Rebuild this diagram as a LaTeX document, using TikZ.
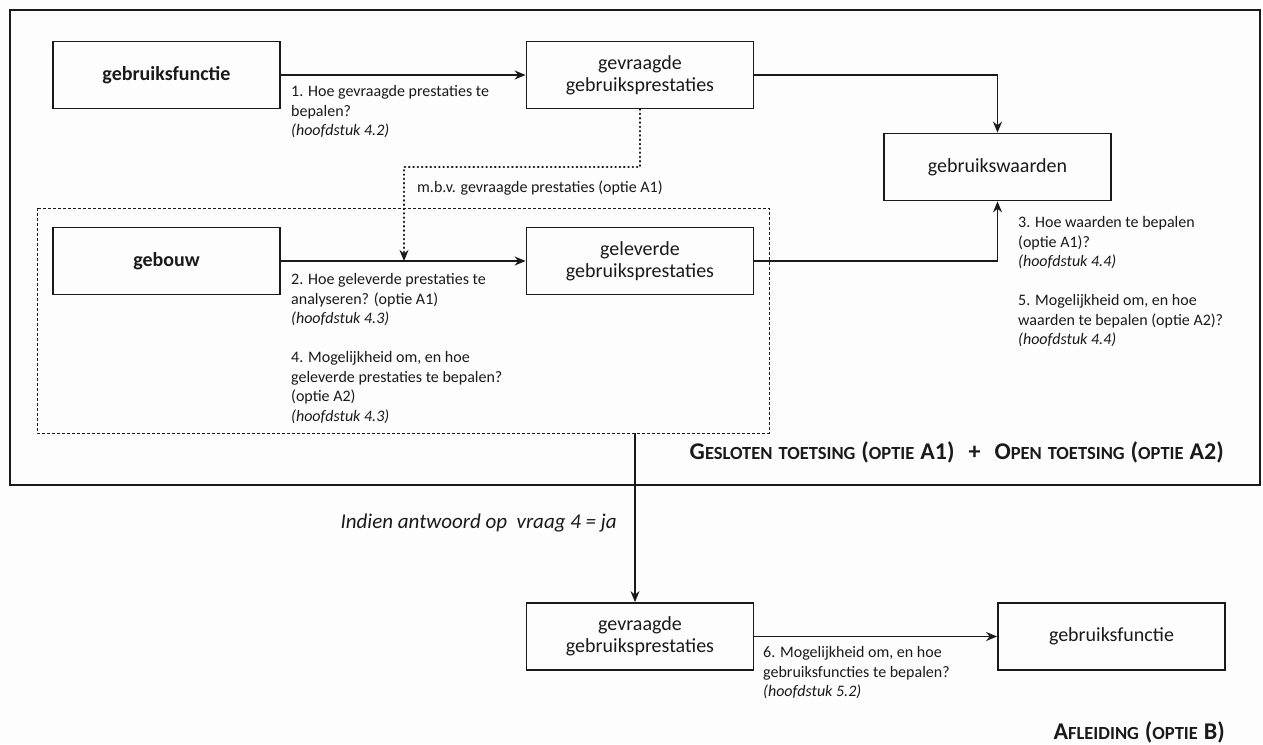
\documentclass[tikz,border=0pt]{standalone}
\usepackage{fontspec}
\setmainfont{Carlito}
\usetikzlibrary{arrows.meta}

\definecolor{ink}{HTML}{1A1A1A}
\definecolor{paper}{HTML}{FDFDFD}

% type sizes (1pt = 1 drawing unit)
\newcommand{\boxfont}{\fontsize{20}{22}\selectfont}
\newcommand{\boxboldfont}{\fontsize{20}{22}\selectfont\bfseries}
\newcommand{\lblfont}{\fontsize{16}{19.5}\selectfont}
% hand-made small capitals for the option titles
\newcommand{\Bg}[1]{{\fontsize{24}{26}\selectfont #1}}
\newcommand{\Sm}[1]{{\fontsize{18.5}{26}\selectfont #1}}
\newcommand{\Wsp}{\hspace{6pt}}

\tikzset{
  box/.style={draw=ink, line width=1.8pt, minimum width=227pt, minimum height=67pt,
              inner sep=0pt, align=center, font=\boxfont, text=ink},
  boldbox/.style={box, font=\boxboldfont},
  link/.style={draw=ink, line width=1.4pt, -{Stealth[length=11pt,width=9pt]}},
  dots/.style={draw=ink, line width=2.2pt, dash pattern=on 0.5pt off 3.8pt, line cap=round,
               -{Stealth[length=11pt,width=9pt,line cap=butt]}},
  frame/.style={draw=ink, line width=1.8pt},
  zone/.style={draw=ink, line width=1pt, dash pattern=on 3pt off 2pt},
  lbl/.style={anchor=north west, align=left, inner sep=0pt, font=\lblfont, text=ink},
  title/.style={anchor=east, inner sep=0pt, text=ink, font=\bfseries}
}

\begin{document}
\begin{tikzpicture}[x=1pt, y=-1pt]
  \useasboundingbox (0,0) rectangle (1263,744);
  \fill[paper] (0,0) rectangle (1263,744);

  % outer frame (options A1 + A2) and the dashed building zone
  \draw[frame] (10,10) rectangle (1260,485);
  \draw[zone] (37,208) rectangle (769,433);
  \coordinate (zoneout) at (635,433);

  % boxes
  \node[boldbox] (use1) at (166.5,75) {gebruiksfunctie};
  \node[box] (req1) at (640,75) {gevraagde\\gebruiksprestaties};
  \node[box] (val) at (997.5,167) {gebruikswaarden};
  \node[boldbox] (bldg) at (166.5,261) {gebouw};
  \node[box] (del) at (640,261) {geleverde\\gebruiksprestaties};
  \node[box] (req2) at (640,636.5) {gevraagde\\gebruiksprestaties};
  \node[box] (use2) at (1111.5,636.5) {gebruiksfunctie};

  % connectors
  \draw[link] (use1.east) -- (req1.west);
  \draw[link] (req1.east) -| (val.north);
  \draw[link] (bldg.east) -- (del.west);
  \draw[link] (del.east) -| (val.south);
  \coordinate (mbvturn) at (404,167);
  \draw[dots] (req1.south) |- (mbvturn) -- (mbvturn |- bldg.east);
  \draw[link] (zoneout) -- (zoneout |- req2.north);
  \draw[link] (req2.east) -- (use2.west);

  % questions
  \node[lbl] (q1) at (291,85.5)
    {1. Hoe gevraagde prestaties te\\bepalen?\\\textit{(hoofdstuk 4.2)}};
  \node[lbl] (q2) at (291,273.5)
    {2. Hoe geleverde prestaties te\\analyseren? (optie A1)\\\textit{(hoofdstuk 4.3)}\\[19.5pt]
     4. Mogelijkheid om, en hoe\\geleverde prestaties te bepalen?\\(optie A2)\\\textit{(hoofdstuk 4.3)}};
  \node[lbl] (q3) at (1018,216.5)
    {3. Hoe waarden te bepalen\\(optie A1)?\\\textit{(hoofdstuk 4.4)}\\[19.5pt]
     5. Mogelijkheid om, en hoe\\waarden te bepalen (optie A2)?\\\textit{(hoofdstuk 4.4)}};
  \node[lbl] (q6) at (763,646.5)
    {6. Mogelijkheid om, en hoe\\gebruiksfuncties te bepalen?\\\textit{(hoofdstuk 5.2)}};
  \node[lbl, anchor=west] (mbv) at (417,188) {m.b.v. gevraagde prestaties (optie A1)};
  \node[anchor=east, inner sep=0pt, text=ink, font=\fontsize{21}{24}\selectfont\itshape] (cond)
    at (617,523) {Indien antwoord op\ \ vraag 4 = ja};

  % option titles
  \node[title] (optA) at (1224,452)
    {\Bg{G}\Sm{ESLOTEN}\Wsp\Sm{TOETSING}\Wsp\Bg{(}\Sm{OPTIE}\Wsp\Bg{A1)}\hspace{14pt}\Bg{+}\hspace{14pt}\Bg{O}\Sm{PEN}\Wsp\Sm{TOETSING}\Wsp\Bg{(}\Sm{OPTIE}\Wsp\Bg{A2)}};
  \node[title] (optB) at (1225,732)
    {\Bg{A}\Sm{FLEIDING}\Wsp\Bg{(}\Sm{OPTIE}\Wsp\Bg{B)}};
\end{tikzpicture}
\end{document}
